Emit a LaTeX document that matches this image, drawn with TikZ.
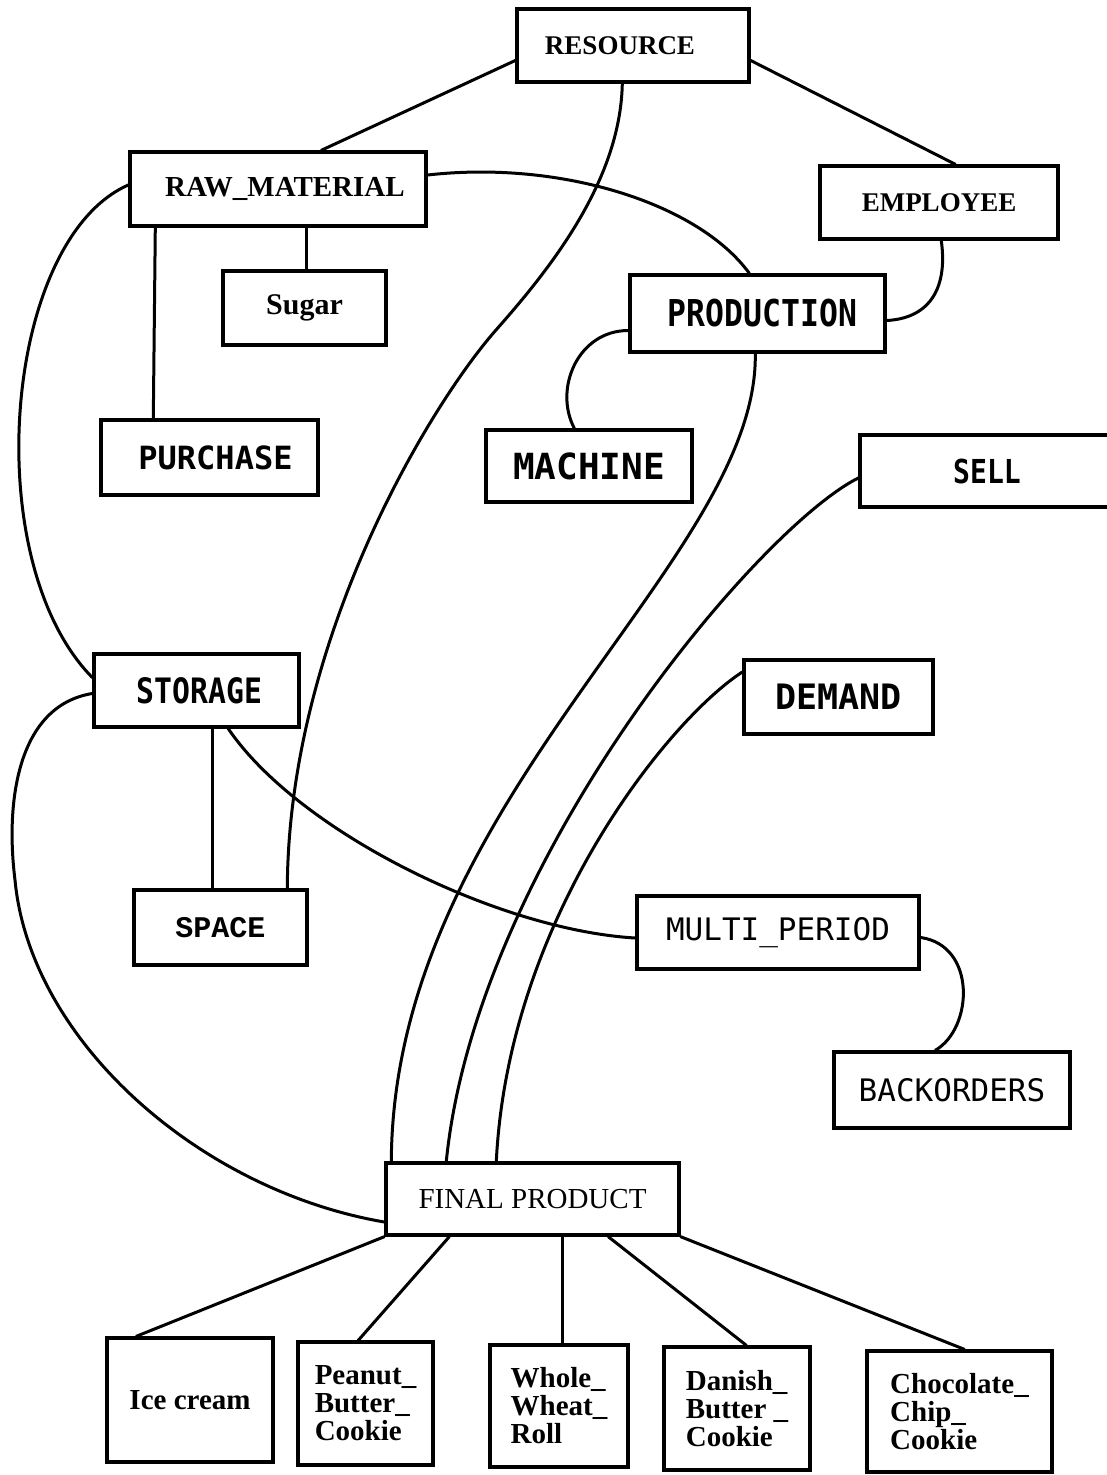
\documentclass[tikz,border=0pt]{standalone}
\usepackage{fontspec}
\usetikzlibrary{calc}
\setmainfont{Liberation Serif}
\newfontfamily\termfont{DejaVu Sans Mono}[FakeStretch=0.85]
\newfontfamily\termwide{DejaVu Sans Mono}
\newfontfamily\typefont{Liberation Mono}
\newcommand\fsz[1]{\fontsize{#1}{#1}\selectfont}

\begin{document}
\begin{tikzpicture}[x=1pt,y=-1pt,
  box/.style={draw, line width=3.4pt, inner sep=0pt, align=center},
  item/.style={box, align=left, font=\bfseries\fontsize{29}{28}\selectfont},
  link/.style={line width=3pt, line cap=round},
]
% page
\fill[white] (0,0) rectangle (1106,1475);
\useasboundingbox (0,0) rectangle (1106,1475);

% concept boxes
\node[box, minimum width=232, minimum height=73, font=\bfseries\fsz{27}] (resource) at (633,45.5) {RESOURCE\hspace*{26pt}};
\node[box, minimum width=296, minimum height=74, font=\bfseries\fsz{29}] (rawmat) at (278,189) {\hspace*{14pt}RAW\_MATERIAL};
\node[box, minimum width=238, minimum height=73, font=\bfseries\fsz{27}] (employee) at (939,202.5) {EMPLOYEE};
\node[box, minimum width=163, minimum height=74, font=\bfseries\fsz{30}] (sugar) at (304.5,308) {Sugar};
\node[box, minimum width=255, minimum height=77, font=\termfont\bfseries\fsz{37}] (production) at (757.5,313.5) {\hspace*{10pt}PRODUCTION};
\node[box, minimum width=217, minimum height=75, font=\termwide\bfseries\fsz{32}] (purchase) at (209.5,457.5) {\hspace*{12pt}PURCHASE};
\node[box, minimum width=206, minimum height=72, font=\termwide\bfseries\fsz{36}] (machine) at (589,466) {MACHINE};
\node[box, minimum width=260, minimum height=72, font=\termfont\bfseries\fsz{33}] (sell) at (990,471) {SELL\hspace*{6pt}};
\node[box, minimum width=205, minimum height=73, font=\termfont\bfseries\fsz{35}] (storage) at (196.5,690.5) {\hspace*{6pt}STORAGE};
\node[box, minimum width=189, minimum height=74, font=\termwide\bfseries\fsz{35}] (demand) at (838.5,697) {DEMAND};
\node[box, minimum width=173, minimum height=75, font=\typefont\bfseries\fsz{30}] (space) at (220.5,927.5) {SPACE};
\node[box, minimum width=282, minimum height=73, font=\termwide\fsz{31}] (multiperiod) at (778,932.5) {MULTI\_PERIOD};
\node[box, minimum width=236, minimum height=76, font=\termwide\fsz{31}] (backorders) at (952,1090) {BACKORDERS};
\node[box, minimum width=293, minimum height=72, font=\fsz{29}] (finalproduct) at (532.5,1199) {FINAL PRODUCT};

% products
\node[item, minimum width=166, minimum height=124] (icecream) at (190,1400) {Ice cream};
\node[item, minimum width=135, minimum height=123] (peanut) at (365.5,1403.5) {Peanut\_\\Butter\_\\Cookie};
\node[item, minimum width=138, minimum height=122] (whole) at (559,1406) {Whole\_\\Wheat\_\\Roll};
\node[item, minimum width=146, minimum height=123] (danish) at (737,1408.5) {Danish\_\\Butter \_\\Cookie};
\node[item, minimum width=185, minimum height=121] (chocolate) at (959.5,1411.5) {Chocolate\_\\Chip\_\\Cookie};

% straight links
\draw[link] ($(resource.west)+(0,15)$) -- ($(rawmat.north west)+(193,0)$);
\draw[link] ($(resource.east)+(0,15)$) -- ($(employee.north west)+(137,0)$);
\draw[link] ($(rawmat.south west)+(178,0)$) -- ($(sugar.north west)+(85,0)$);
\draw[link] ($(rawmat.south west)+(27,0)$) -- ($(purchase.north west)+(54,0)$);
\draw[link] ($(storage.south west)+(120,0)$) -- ($(space.north west)+(80,0)$);

% curved links
\draw[link] ($(rawmat.east)+(0,-14)$) .. controls +(133,-15) and +(-51,-70) .. ($(production.north west)+(121,0)$);
\draw[link] ($(employee.south west)+(123,0)$) .. controls +(7,51) and +(40,-2) .. ($(production.east)+(0,7)$);
\draw[link] ($(production.west)+(0,17)$) .. controls +(-50,0) and +(-21,-40) .. ($(machine.north west)+(90,0)$);
\draw[link] ($(resource.south west)+(107,0)$) .. controls +(-2,98) and +(53,-60) .. (496,330)
            .. controls +(-66,75) and +(1,-250) .. ($(space.north west)+(155,0)$);
\draw[link] ($(rawmat.west)+(0,-4)$) .. controls +(-125,55) and +(-115,-117) .. ($(storage.west)+(0,-13)$);
\draw[link] ($(storage.west)+(0,3)$) .. controls +(-74,12) and +(-10,-80) .. (15,880)
            .. controls +(15,160) and +(-186,-32) .. ($(finalproduct.west)+(0,23)$);
\draw[link] ($(storage.south west)+(136,0)$) .. controls +(70,103) and +(-137,-8) .. ($(multiperiod.west)+(0,5.5)$);
\draw[link] ($(production.south west)+(127,0)$) .. controls +(3,208) and +(2,-363) .. ($(finalproduct.north west)+(7,0)$);
\draw[link] ($(sell.west)+(0,7)$) .. controls +(-100,50) and +(30,-300) .. ($(finalproduct.north west)+(62,0)$);
\draw[link] ($(demand.west)+(0,-25)$) .. controls +(-74,48) and +(12,-243) .. ($(finalproduct.north west)+(112,0)$);
\draw[link] ($(multiperiod.east)+(0,5)$) .. controls +(56,8) and +(38,-22) .. ($(backorders.north west)+(103,0)$);

% final product to its kinds
\draw[link] (finalproduct.south west) -- ($(icecream.north west)+(31,0)$);
\draw[link] ($(finalproduct.south west)+(65,0)$) -- ($(peanut.north west)+(62,0)$);
\draw[link] ($(finalproduct.south west)+(178,0)$) -- ($(whole.north west)+(74,0)$);
\draw[link] ($(finalproduct.south west)+(224,0)$) -- ($(danish.north west)+(84,0)$);
\draw[link] (finalproduct.south east) -- ($(chocolate.north west)+(99,0)$);
\end{tikzpicture}
\end{document}
